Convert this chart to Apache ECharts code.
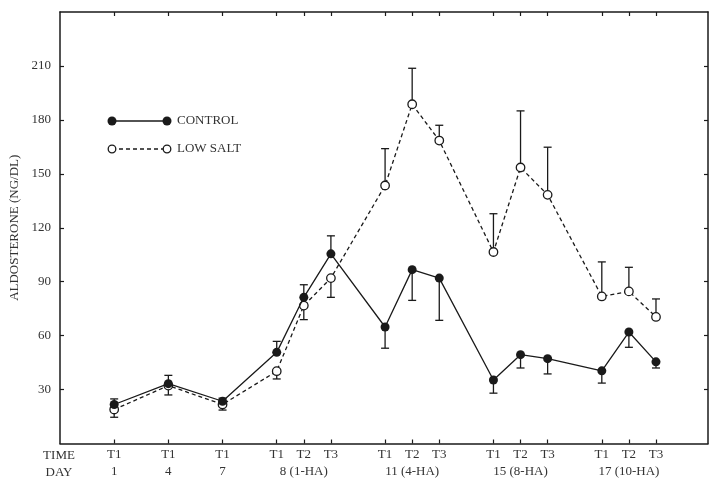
<!DOCTYPE html>
<html>
<head>
<meta charset="utf-8">
<script src="https://cdn.jsdelivr.net/npm/echarts@6/dist/echarts.min.js"></script>
<style>
  html, body { margin: 0; padding: 0; background: #fff; }
  #main { width: 710px; height: 483px; }
</style>
</head>
<body>
<div id="main"></div>
<script>
// x positions of the sampling times (day 1 = 0, one unit = half a day step)
const xPos = [0, 2, 4, 6, 7, 8, 10, 11, 12, 14, 15, 16, 18, 19, 20];
const timeLabels = ['T1', 'T1', 'T1', 'T1', 'T2', 'T3', 'T1', 'T2', 'T3', 'T1', 'T2', 'T3', 'T1', 'T2', 'T3'];
const dayPos = [0, 2, 4, 7, 11, 15, 19];
const dayLabels = ['1', '4', '7', '8 (1-HA)', '11 (4-HA)', '15 (8-HA)', '17 (10-HA)'];
const yTicks = [30, 60, 90, 120, 150, 180, 210];

const control = [21.7, 33.3, 23.5, 50.7, 81.3, 105.5, 64.8, 96.7, 92, 35.3, 49.4, 47.2, 40.4, 62, 45.4];
const controlErrEnd = [24.8, 37.9, 25.2, 56.8, 88.3, 115.5, 53, 79.6, 68.5, 28, 42, 38.7, 33.6, 53.5, 42];
const lowSalt = [18.9, 32.2, 21.7, 40.2, 76.7, 92, 143.5, 188.7, 168.5, 106.5, 153.5, 138.3, 81.8, 84.6, 70.4];
const lowSaltErrEnd = [14.6, 27, 18.6, 35.9, 68.9, 81.3, 164, 208.7, 177, 127.8, 185, 164.8, 101, 98, 80.4];

const ink = '#1a1a1a';
const txt = '#333';
const font = 'Liberation Serif';
const fs = 13;

var myChart = echarts.init(document.getElementById('main'));

function errBars(vals, ends) {
  return xPos.map((x, i) => [x, vals[i], ends[i]]);
}

function renderErr(params, api) {
  const p0 = api.coord([api.value(0), api.value(1)]);
  const p1 = api.coord([api.value(0), api.value(2)]);
  const w = 4;
  return {
    type: 'group',
    children: [
      { type: 'line', shape: { x1: p0[0], y1: p0[1], x2: p1[0], y2: p1[1] }, style: { stroke: ink, lineWidth: 1.3 } },
      { type: 'line', shape: { x1: p1[0] - w, y1: p1[1], x2: p1[0] + w, y2: p1[1] }, style: { stroke: ink, lineWidth: 1.3 } }
    ]
  };
}

const axisLine = { show: true, onZero: false, lineStyle: { color: ink, width: 1.5 } };
const tick = vals => ({ show: true, inside: true, length: 4, customValues: vals, lineStyle: { color: ink, width: 1.2 } });
const xMin = -2, xMax = 21.92;

myChart.setOption({
  animation: false,
  grid: { left: 60, right: 2, top: 12, bottom: 39.5, containLabel: false, outerBoundsMode: 'none' },
  xAxis: [
    {
      type: 'value', min: xMin, max: xMax, position: 'bottom',
      axisLine: axisLine,
      splitLine: { show: false },
      axisTick: tick(xPos),
      axisLabel: {
        customValues: xPos, margin: 5,
        fontFamily: font, fontSize: fs, color: txt,
        formatter: v => timeLabels[xPos.indexOf(v)] || ''
      }
    },
    {
      type: 'value', min: xMin, max: xMax, position: 'bottom', offset: 17,
      axisLine: { show: false, onZero: false },
      splitLine: { show: false },
      axisTick: { show: false },
      axisLabel: {
        customValues: dayPos, margin: 5,
        fontFamily: font, fontSize: fs, color: txt,
        formatter: v => dayLabels[dayPos.indexOf(v)] || ''
      }
    },
    {
      type: 'value', min: xMin, max: xMax, position: 'top',
      axisLine: axisLine,
      splitLine: { show: false },
      axisTick: tick(xPos),
      axisLabel: { show: false }
    }
  ],
  yAxis: [
    {
      type: 'value', min: 0, max: 240, position: 'left',
      name: 'ALDOSTERONE (NG/DL)', nameLocation: 'middle', nameGap: 37,
      nameTextStyle: { fontFamily: font, fontSize: fs, color: txt },
      axisLine: axisLine,
      splitLine: { show: false },
      axisTick: tick(yTicks),
      axisLabel: { customValues: yTicks, margin: 9, fontFamily: font, fontSize: fs, color: txt }
    },
    {
      type: 'value', min: 0, max: 240, position: 'right',
      axisLine: axisLine,
      splitLine: { show: false },
      axisTick: tick(yTicks),
      axisLabel: { show: false }
    }
  ],
  graphic: [
    { type: 'text', x: 59, y: 456, style: { text: 'TIME', font: fs + 'px ' + font, fill: txt, align: 'center', verticalAlign: 'middle' } },
    { type: 'text', x: 59, y: 473, style: { text: 'DAY', font: fs + 'px ' + font, fill: txt, align: 'center', verticalAlign: 'middle' } },
    // legend
    { type: 'line', shape: { x1: 112, y1: 121, x2: 167, y2: 121 }, style: { stroke: ink, lineWidth: 1.3 } },
    { type: 'circle', shape: { cx: 112, cy: 121, r: 4.5 }, style: { fill: ink } },
    { type: 'circle', shape: { cx: 167, cy: 121, r: 4.5 }, style: { fill: ink } },
    { type: 'text', x: 177, y: 121, style: { text: 'CONTROL', font: fs + 'px ' + font, fill: txt, verticalAlign: 'middle' } },
    { type: 'line', shape: { x1: 112, y1: 149, x2: 167, y2: 149 }, style: { stroke: ink, lineWidth: 1.3, lineDash: [4, 3] } },
    { type: 'circle', shape: { cx: 112, cy: 149, r: 3.8 }, style: { fill: '#fff', stroke: ink, lineWidth: 1.3 } },
    { type: 'circle', shape: { cx: 167, cy: 149, r: 3.8 }, style: { fill: '#fff', stroke: ink, lineWidth: 1.3 } },
    { type: 'text', x: 177, y: 149, style: { text: 'LOW SALT', font: fs + 'px ' + font, fill: txt, verticalAlign: 'middle' } }
  ],
  series: [
    {
      name: 'CONTROL err', type: 'custom', renderItem: renderErr,
      data: errBars(control, controlErrEnd), z: 1
    },
    {
      name: 'LOW SALT err', type: 'custom', renderItem: renderErr,
      data: errBars(lowSalt, lowSaltErrEnd), z: 1
    },
    {
      name: 'LOW SALT', type: 'line',
      data: xPos.map((x, i) => [x, lowSalt[i]]),
      symbol: 'circle', symbolSize: 8.5,
      lineStyle: { color: ink, width: 1.3, type: [4, 3] },
      itemStyle: { color: '#fff', borderColor: ink, borderWidth: 1.3 },
      z: 3
    },
    {
      name: 'CONTROL', type: 'line',
      data: xPos.map((x, i) => [x, control[i]]),
      symbol: 'circle', symbolSize: 9,
      lineStyle: { color: ink, width: 1.3 },
      itemStyle: { color: ink },
      z: 4
    }
  ]
});
</script>
</body>
</html>
